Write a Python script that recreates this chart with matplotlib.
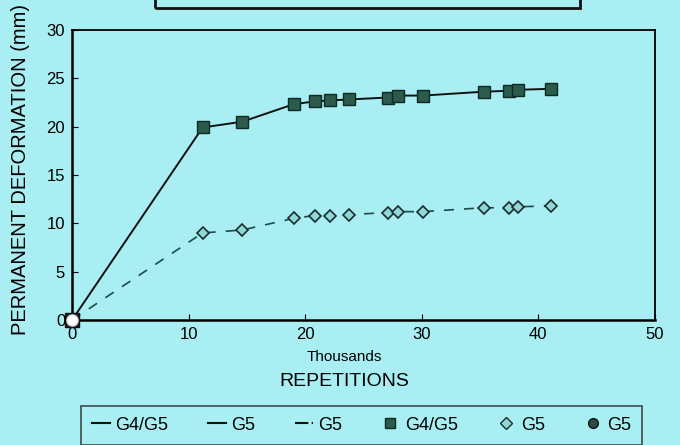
import matplotlib
matplotlib.use("Agg")
import matplotlib.pyplot as plt
from matplotlib.patches import Rectangle
from matplotlib.lines import Line2D

plt.rcParams["font.family"] = ["Liberation Sans", "DejaVu Sans"]

BG = "#a8eef2"

# thousands of repetitions
reps = [0, 11.2, 14.6, 19.0, 20.8, 22.1, 23.8, 27.1, 28.0, 30.1, 35.3, 37.5, 38.3, 41.1]
g4g5 = [0, 19.9, 20.5, 22.3, 22.6, 22.7, 22.8, 23.0, 23.2, 23.2, 23.6, 23.7, 23.8, 23.9]
g5 = [0, 9.0, 9.3, 10.5, 10.8, 10.8, 10.9, 11.1, 11.2, 11.2, 11.6, 11.6, 11.7, 11.8]
g5_circle_x = [0]
g5_circle_y = [0]

xticks = [0, 10, 20, 30, 40, 50]
yticks = [0, 5, 10, 15, 20, 25, 30]

fig = plt.figure(figsize=(6.8, 4.45), dpi=100)
fig.patch.set_facecolor(BG)
ax = fig.add_axes([0.106, 0.281, 0.857, 0.652])
ax.set_facecolor(BG)

ax.plot(reps, g4g5, color="#111111", lw=1.4, zorder=2)
ax.plot(reps, g5, color="#1e4a4a", lw=1.2, dashes=(6, 6), zorder=2)
ax.plot(reps[1:], g4g5[1:], ls="none", marker="s", ms=8, mfc="#2c5a4c",
        mec="#0f2a22", mew=1, zorder=3)
ax.plot(reps[1:], g5[1:], ls="none", marker="D", ms=6.5, mfc="#8fd8d8",
        mec="#1a2e2e", mew=1.2, zorder=3)
ax.plot([0], [0], ls="none", marker="s", ms=10, mfc="#222222", mec="#111111",
        zorder=5, clip_on=False)
ax.plot(g5_circle_x, g5_circle_y, ls="none", marker="o", ms=8, mfc="white",
        mec="#dddddd", zorder=6, clip_on=False)

ax.set_xlim(0, 50)
ax.set_ylim(0, 30)
ax.set_xticks(xticks)
ax.set_yticks(yticks)
ax.tick_params(direction="in", length=4, labelsize=12, pad=5)
for s in ax.spines.values():
    s.set_linewidth(1.3)
ax.spines["left"].set_linewidth(1.8)
ax.spines["bottom"].set_linewidth(1.8)

fig.text(0.507, 0.197, "Thousands", ha="center", va="center", fontsize=11)
fig.text(0.507, 0.142, "REPETITIONS", ha="center", va="center", fontsize=14)
fig.text(0.03, 0.618, "PERMANENT DEFORMATION (mm)", rotation=90,
         ha="center", va="center", fontsize=14.5)

# partial title box at the top
fig.patches.append(Rectangle((0.228, 0.982), 0.625, 0.1, transform=fig.transFigure,
                             fill=False, lw=2, ec="#111111"))

handles = [
    Line2D([], [], color="#111111", lw=1.5),
    Line2D([], [], color="#111111", lw=1.5),
    Line2D([], [], color="#111111", lw=1.5, ls="-."),
    Line2D([], [], ls="none", marker="s", ms=7, mfc="#2c5a4c", mec="#0f2a22"),
    Line2D([], [], ls="none", marker="D", ms=6, mfc="#8fd8d8", mec="#1a2e2e"),
    Line2D([], [], ls="none", marker="o", ms=7, mfc="#2c4a44", mec="#111111"),
]
labels = ["G4/G5", "G5", "G5", "G4/G5", "G5", "G5"]
leg = fig.legend(handles, labels, loc="upper left",
                 bbox_to_anchor=(0.106, 0.108, 0.852, 0.0), mode="expand",
                 ncol=6, fontsize=13, handlelength=1.0, handletextpad=0.3,
                 columnspacing=1.5, frameon=True, fancybox=False,
                 borderpad=0.6)
leg.get_frame().set_facecolor(BG)
leg.get_frame().set_edgecolor("#222222")
leg.get_frame().set_linewidth(1.2)

fig.savefig("out.png", dpi=100, facecolor=BG)
